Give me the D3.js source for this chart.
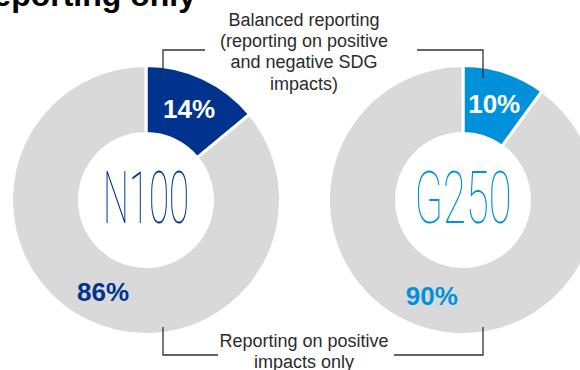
<!DOCTYPE html>
<html>
<head>
<meta charset="utf-8">
<script src="https://cdn.jsdelivr.net/npm/d3@7"></script>
<style>
  html, body { margin: 0; padding: 0; background: #ffffff; }
  svg { display: block; }
</style>
</head>
<body>
<svg id="chart" width="580" height="370"></svg>
<script>
// Share of companies by type of SDG impact reporting
const groups = ["N100", "G250"];
const balancedShare = [14, 10];   // reporting on positive and negative SDG impacts
const positiveOnlyShare = [86, 90]; // reporting on positive impacts only
const groupColors = ["#00338D", "#0091DA"];
const restColor = "#D9D9D9";

const titleText = "reporting only";
const topNote = ["Balanced reporting", "(reporting on positive", "and negative SDG", "impacts)"];
const bottomNote = ["Reporting on positive", "impacts only"];

const svg = d3.select("#chart");

// Layout
const centers = [{ x: 146, y: 200 }, { x: 463, y: 200 }];
const gapWidth = 3;
const outerR = 133 + gapWidth / 2;
const innerR = 68 - gapWidth / 2;
const labelR = 101;

const pie = d3.pie().sort(null).value(d => d.value);
const arc = d3.arc().innerRadius(innerR).outerRadius(outerR);
const labelArc = d3.arc().innerRadius(labelR).outerRadius(labelR);

const bodyFont = "'Liberation Sans', Arial, sans-serif";

// Title (runs off the top edge)
svg.append("text")
  .attr("x", 196).attr("y", 6)
  .attr("text-anchor", "end")
  .attr("font-family", bodyFont)
  .attr("font-weight", "bold")
  .attr("font-size", 32)
  .attr("fill", "#000")
  .text(titleText);

groups.forEach((name, i) => {
  const data = [
    { key: "balanced", value: balancedShare[i] },
    { key: "positive", value: positiveOnlyShare[i] }
  ];
  const arcs = pie(data);
  const g = svg.append("g").attr("transform", `translate(${centers[i].x},${centers[i].y})`);

  g.selectAll("path.slice")
    .data(arcs)
    .join("path")
    .attr("class", "slice")
    .attr("d", arc)
    .attr("fill", d => d.data.key === "balanced" ? groupColors[i] : restColor)
    .attr("stroke", "#ffffff")
    .attr("stroke-width", gapWidth)
    .attr("stroke-linejoin", "miter");

  g.selectAll("text.pct")
    .data(arcs)
    .join("text")
    .attr("class", "pct")
    .attr("transform", d => {
      const [x, y] = labelArc.centroid(d);
      return `translate(${x},${y})`;
    })
    .attr("dy", "0.36em")
    .attr("text-anchor", "middle")
    .attr("font-family", bodyFont)
    .attr("font-weight", "bold")
    .attr("font-size", 26)
    .attr("fill", d => d.data.key === "balanced" ? "#ffffff" : groupColors[i])
    .text(d => d.data.value + "%");

  // Group name in the hole, drawn tall and narrow
  g.append("text")
    .attr("x", 0).attr("y", 23)
    .attr("text-anchor", "middle")
    .attr("font-family", "Roboto, 'Noto Sans', sans-serif")
    .attr("font-weight", 100)
    .attr("font-size", 73)
    .attr("textLength", i === 0 ? 86 : 97)
    .attr("lengthAdjust", "spacingAndGlyphs")
    .attr("fill", groupColors[i])
    .text(name);
});

// Annotation brackets
const lineColor = "#333333";
const brackets = [
  [[205, 50], [163, 50], [163, 78]],
  [[417, 50], [483, 50], [483, 78]],
  [[163, 327], [163, 355], [218, 355]],
  [[394, 355], [483, 355], [483, 327]]
];
const line = d3.line();
svg.selectAll("path.bracket")
  .data(brackets)
  .join("path")
  .attr("class", "bracket")
  .attr("d", line)
  .attr("fill", "none")
  .attr("stroke", lineColor)
  .attr("stroke-width", 1.3);

function note(lines, x, y0, step) {
  const t = svg.append("text")
    .attr("text-anchor", "middle")
    .attr("font-family", bodyFont)
    .attr("font-size", 18)
    .attr("fill", "#2b2b2b");
  lines.forEach((s, k) => {
    t.append("tspan").attr("x", x).attr("y", y0 + k * step).text(s);
  });
}
note(topNote, 304, 26, 21.2);
note(bottomNote, 304, 347, 21.2);
</script>
</body>
</html>
